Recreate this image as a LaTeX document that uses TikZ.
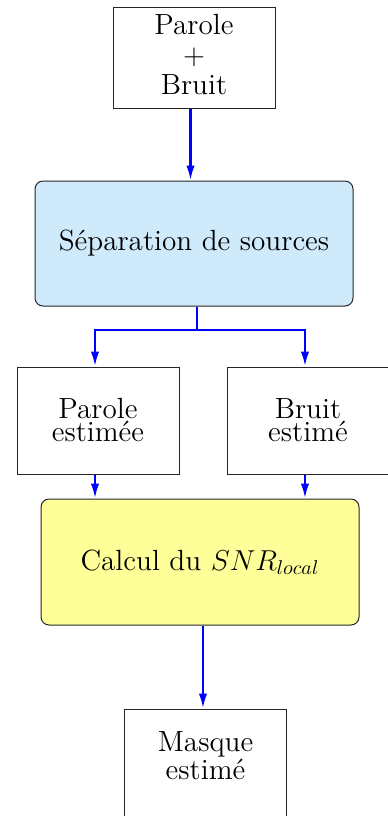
\documentclass[tikz,border=0pt]{standalone}
\usetikzlibrary{arrows.meta}
\definecolor{sepblue}{RGB}{207,234,251}
\definecolor{calcyellow}{RGB}{255,255,153}
\begin{document}
\begin{tikzpicture}[x=0.5pt,y=-0.5pt,
  box/.style={draw=black!85, line width=0.5pt, inner sep=0pt, align=center,
    font=\fontsize{14.6}{11.5}\selectfont, minimum width=81pt, minimum height=53.5pt},
  rbox/.style={box, rounded corners=4pt, minimum width=159pt, minimum height=62.5pt},
  flowline/.style={draw=blue, line width=1.2pt},
  flow/.style={flowline, -{Latex[length=7.5pt,width=4.2pt]}}]
\useasboundingbox (0,0) rectangle (387,816);
\node[box, minimum height=50.5pt, text depth=3.5pt, font=\fontsize{14.6}{15}\selectfont] (src) at (194,57.5) {Parole\\$+$\\Bruit};
\node[rbox, fill=sepblue] (sep) at (194,243.5) {Séparation de sources};
\node[box] (pe) at (98,420.5) {Parole\\estimée};
\node[box] (be) at (308,420.5) {Bruit\\estimé};
\node[rbox, fill=calcyellow, minimum height=63pt] (calc) at (200,562) {Calcul du $SNR_{local}$};
\node[box, minimum height=54pt, text depth=7pt] (mask) at (205.5,763) {Masque\\estimé};
% connectors
\coordinate (srcs) at ([xshift=-1.75pt]src.south);
\draw[flow] (srcs) -- (srcs |- sep.north);
\coordinate (seps) at ([xshift=1.5pt]sep.south);
\coordinate (jn) at (197,330);
\coordinate (pen) at ([xshift=-1.5pt]pe.north);
\coordinate (ben) at ([xshift=-1.5pt]be.north);
\draw[flow] (seps) -- (jn) -| (pen);
\draw[flow] (jn) -| (ben);
\coordinate (pes) at ([xshift=-1.5pt]pe.south);
\coordinate (bes) at ([xshift=-1.5pt]be.south);
\draw[flow] (pes) -- (pes |- calc.north);
\draw[flow] (bes) -- (bes |- calc.north);
\coordinate (cals) at ([xshift=1.5pt]calc.south);
\draw[flow] (cals) -- (cals |- mask.north);
\end{tikzpicture}
\end{document}
